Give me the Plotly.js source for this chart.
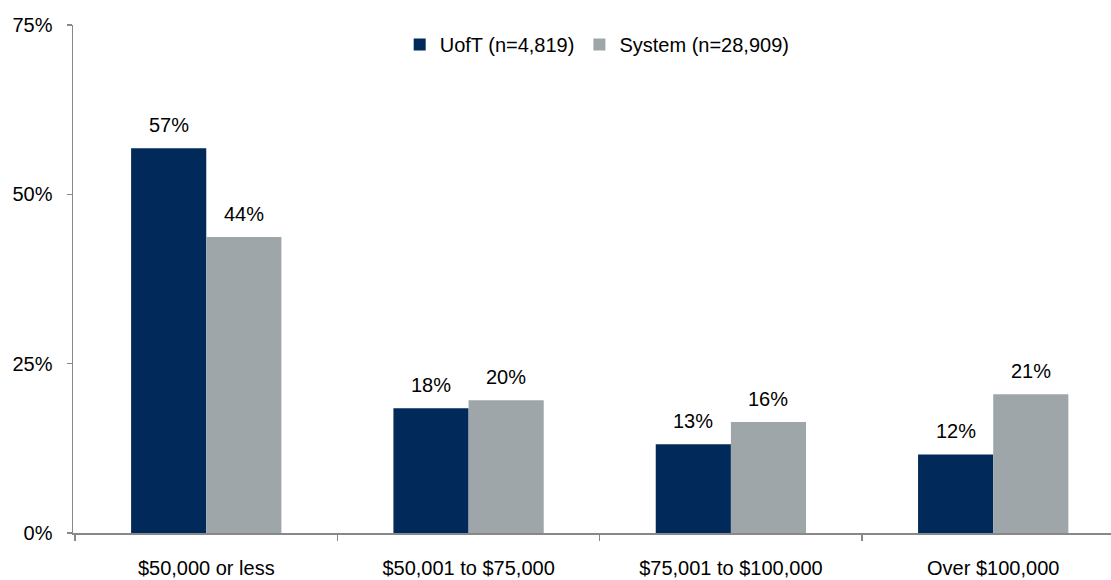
<!DOCTYPE html>
<html><head><meta charset="utf-8">
<script src="https://cdn.plot.ly/plotly-3.0.1.min.js"></script>
<style>html,body{margin:0;padding:0;background:#fff}#chart{width:1111px;height:580px}</style>
</head><body><div id="chart"></div>
<script>
const categories = ["$50,000 or less", "$50,001 to $75,000", "$75,001 to $100,000", "Over $100,000"];
const uoftValues = [56.8, 18.4, 13.1, 11.6];
const systemValues = [43.7, 19.6, 16.4, 20.5];
const uoftLabels = ["57%", "18%", "13%", "12%"];
const systemLabels = ["44%", "20%", "16%", "21%"];
const yTickVals = [0, 25, 50, 75];
const yTickText = ["0%", "25%", "50%", "75%"];

const FONT = "Liberation Sans, Arial, sans-serif";
const navy = "#012a5b", gray = "#9fa6a9";

const traces = [
  {type: "bar", name: "UofT (n=4,819)", x: categories, y: uoftValues, marker: {color: navy}, hoverinfo: "skip"},
  {type: "bar", name: "System (n=28,909)", x: categories, y: systemValues, marker: {color: gray}, hoverinfo: "skip"}
];

const off = 0.143;
const annotations = [];
categories.forEach((c, i) => {
  annotations.push({x: i - off, y: uoftValues[i], xref: "x", yref: "y", text: uoftLabels[i], showarrow: false, yanchor: "bottom", yshift: 10, font: {family: FONT, size: 20, color: "#000"}});
  annotations.push({x: i + off, y: systemValues[i], xref: "x", yref: "y", text: systemLabels[i], showarrow: false, yanchor: "bottom", yshift: 10, font: {family: FONT, size: 20, color: "#000"}});
});

const layout = {
  width: 1111, height: 580,
  margin: {l: 73, r: 0, t: 25, b: 47},
  paper_bgcolor: "#fff", plot_bgcolor: "#fff",
  font: {family: FONT, size: 20, color: "#000"},
  barmode: "group", bargap: 0.427, bargroupgap: 0,
  showlegend: true,
  legend: {orientation: "h", x: 0.505, xanchor: "center", y: 1.0, yanchor: "top", font: {family: FONT, size: 20, color: "#000"}, itemwidth: 30, tracegroupgap: 0, bgcolor: "rgba(0,0,0,0)"},
  xaxis: {type: "category", range: [-0.508, 3.449], tickson: "boundaries", ticks: "outside", ticklen: 6, tickcolor: "#888", tickwidth: 1.5,
          ticklabelstandoff: 16,
          showline: true, linecolor: "#888", linewidth: 1.5, showgrid: false, zeroline: false, tickfont: {family: FONT, size: 20, color: "#000"}},
  yaxis: {range: [0, 75], tickvals: yTickVals, ticktext: yTickText, ticks: "outside", ticklen: 5, tickcolor: "#888", tickwidth: 1.5,
          ticklabelstandoff: 10,
          showline: true, linecolor: "#888", linewidth: 1.5, showgrid: false, zeroline: false, tickfont: {family: FONT, size: 20, color: "#000"}},
  annotations: annotations
};

Plotly.newPlot("chart", traces, layout, {displayModeBar: false, staticPlot: true});
</script></body></html>
